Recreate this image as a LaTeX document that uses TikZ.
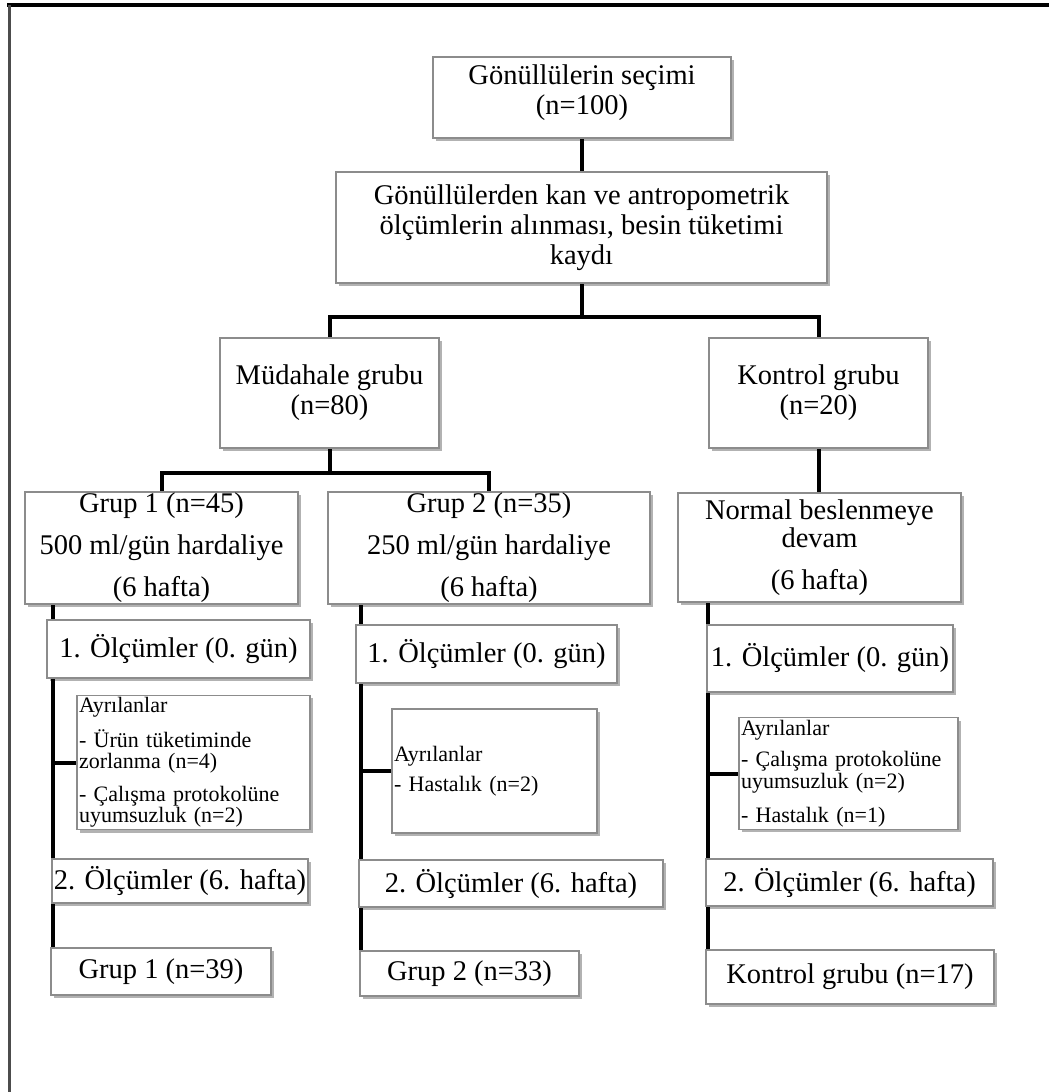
\documentclass[tikz,border=0pt]{standalone}
\usepackage{fontspec}
\setmainfont{Liberation Serif}
\usetikzlibrary{shadows,backgrounds}
\newcommand\boxfont{\fontsize{28.5}{30}\selectfont}
\newcommand\notefont{\fontsize{22}{21.5}\selectfont}
\tikzset{
  box/.style={draw=black!45, line width=1.2pt, fill=white, inner sep=1pt, align=center, font=\boxfont,
    drop shadow={shadow xshift=2.5pt, shadow yshift=-3pt, fill=black, opacity=.3}},
  note/.style={box, align=left, font=\notefont, inner sep=2pt},
  link/.style={line width=4pt}
}
\begin{document}
\begin{tikzpicture}[x=1pt, y=-1pt]
  \useasboundingbox (0,0) rectangle (1049,1092);
  \draw[line width=4pt] (7,4.5) -- (1049,4.5);
  \draw[black!70, line width=2.5pt] (9.5,4.5) -- (9.5,1092);

  \node[box, minimum width=298, minimum height=81] (sec) at (582,97.5) {Gönüllülerin seçimi\\(n=100)\\[-14pt]\mbox{}};
  \node[box, minimum width=491, minimum height=111] (kay) at (581.5,227.5)
    {Gönüllülerden kan ve antropometrik\\ölçümlerin alınması, besin tüketimi\\kaydı};
  \node[box, minimum width=219, minimum height=110] (mud) at (329.5,393) {Müdahale grubu\\(n=80)};
  \node[box, minimum width=219, minimum height=110] (kon) at (818.5,393) {Kontrol grubu\\(n=20)};
  \node[box, minimum width=273, minimum height=110] (g1) at (161.5,548)
    {Grup 1 (n=45)\\[12pt]500 ml/gün hardaliye\\[12pt](6 hafta)};
  \node[box, minimum width=322, minimum height=110] (g2) at (489,548)
    {Grup 2 (n=35)\\[12pt]250 ml/gün hardaliye\\[12pt](6 hafta)};
  \node[box, minimum width=283, minimum height=109] (nor) at (819.5,547.5)
    {Normal beslenmeye\\[-2pt]devam\\[12pt](6 hafta)};

  \node[box, minimum width=263, minimum height=58] (g1a) at (178.5,649) {1. Ölçümler (0. gün)};
  \node[note, minimum width=233, minimum height=131, text width=229] (g1b) at (193.5,762.5)
    {Ayrılanlar\\[11pt]- Ürün tüketiminde\\zorlanma (n=4)\\[11pt]- Çalışma protokolüne\\uyumsuzluk (n=2)};
  \node[box, minimum width=256, minimum height=44] (g1c) at (180,881) {2. Ölçümler (6. hafta)};
  \node[box, minimum width=220, minimum height=47] (g1d) at (161,971.5) {Grup 1 (n=39)};

  \node[box, minimum width=261, minimum height=58] (g2a) at (486.5,654) {1. Ölçümler (0. gün)};
  \node[note, minimum width=205, minimum height=124, text width=201] (g2b) at (494.5,771)
    {Ayrılanlar\\[9pt]- Hastalık (n=2)};
  \node[box, minimum width=304, minimum height=47] (g2c) at (511,883.5) {2. Ölçümler (6. hafta)};
  \node[box, minimum width=219, minimum height=45] (g2d) at (469.5,973.5) {Grup 2 (n=33)};

  \node[box, minimum width=246, minimum height=67] (k1a) at (830,658.5) {1. Ölçümler (0. gün)};
  \node[note, minimum width=219, minimum height=109, text width=215] (k1b) at (848.5,773.5)
    {Ayrılanlar\\[10pt]- Çalışma protokolüne\\uyumsuzluk (n=2)\\[13pt]- Hastalık (n=1)};
  \node[box, minimum width=287, minimum height=47] (k1c) at (849.5,882.5) {2. Ölçümler (6. hafta)};
  \node[box, minimum width=288, minimum height=54] (k1d) at (850,977) {Kontrol grubu (n=17)};

  \coordinate (x1) at (53,0);
  \coordinate (x2) at (361,0);
  \coordinate (x3) at (708,0);

  \begin{scope}[on background layer]
    \draw[link] (sec.south) -- (sec.south |- kay.north);
    \draw[link] (kay.south) -- ++(0,33) coordinate (j1) -| (mud.north);
    \draw[link] (j1) -| (kon.north);
    \draw[link] (mud.south) -- ++(0,24) coordinate (j2) -| (g1.north);
    \draw[link] (j2) -| (g2.north);
    \draw[link] (kon.south) -- (kon.south |- nor.north);
    \draw[link] (g1.south -| x1) -- (g1d.north -| x1);
    \draw[link] (g1b.west -| x1) -- (g1b.west);
    \draw[link] (g2.south -| x2) -- (g2d.north -| x2);
    \draw[link] (g2b.west -| x2) -- (g2b.west);
    \draw[link] (nor.south -| x3) -- (k1d.north -| x3);
    \draw[link] (k1b.west -| x3) -- (k1b.west);
  \end{scope}
\end{tikzpicture}
\end{document}
